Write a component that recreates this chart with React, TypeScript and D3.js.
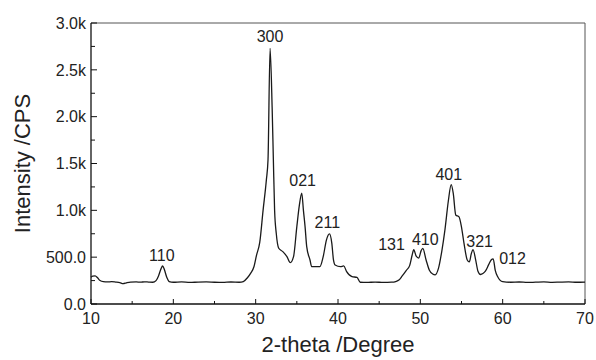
import React from 'react';
import * as d3 from 'd3';

// XRD pattern
const twoTheta = [
    10.0, 10.2, 10.5, 10.8, 11.1, 11.5, 12.0, 12.5, 13.0, 13.5, 13.9, 14.3, 14.8, 15.5, 16.0, 16.5, 17.0, 17.5,
    17.9, 18.2, 18.5, 18.7, 18.9, 19.2, 19.5, 20.0, 21.0, 22.0, 23.0, 24.0, 25.0, 26.0, 27.0, 28.0, 28.5, 29.0,
    29.4, 29.8, 30.1, 30.5, 30.9, 31.3, 31.5, 31.75, 32.0, 32.15, 32.3, 32.5, 32.8, 33.3, 33.8, 34.2, 34.6, 35.0,
    35.3, 35.6, 35.8, 36.0, 36.2, 36.6, 36.8, 37.3, 37.8, 38.2, 38.6, 38.96, 39.25, 39.45, 39.65, 40.3, 40.7,
    41.05, 41.7, 42.3, 42.7, 43.5, 44.5, 45.5, 46.5, 47.0, 47.4, 47.8, 48.3, 48.7, 49.0, 49.2, 49.5, 49.8, 50.1,
    50.3, 50.7, 51.1, 51.5, 51.8, 52.2, 52.6, 53.0, 53.4, 53.75, 54.0, 54.3, 54.7, 55.0, 55.3, 55.7, 55.95,
    56.2, 56.4, 56.7, 57.0, 57.3, 57.6, 57.9, 58.3, 58.6, 58.85, 59.1, 59.4, 59.7, 60.0, 61.0, 62.0, 63.0,
    64.0, 65.0, 66.0, 67.0, 68.0, 69.0, 70.0,
];
const intensity = [
    285, 298, 300, 280, 250, 238, 236, 238, 234, 228, 217, 226, 234, 236, 233, 237, 234, 232,
    250, 300, 375, 406, 370, 285, 240, 232, 236, 230, 234, 236, 232, 230, 235, 232, 240, 280,
    330, 400, 520, 660, 1000, 1325, 1540, 2730, 2100, 1540, 1000, 755, 595, 559, 505, 441, 505, 826,
    1050, 1183, 1000, 826, 612, 470, 399, 400, 399, 505, 684, 748, 648, 470, 416, 399, 406,
    345, 292, 285, 232, 230, 234, 230, 233, 240, 255, 300, 360, 410, 520, 580, 510, 490, 570,
    594, 470, 360, 320, 312, 380, 560, 800, 1100, 1275, 1180, 950, 930, 820, 650, 470, 450,
    540, 580, 480, 350, 315, 325, 350, 420, 470, 482, 360, 290, 252, 238, 232, 235, 230,
    233, 236, 231, 234, 236, 232, 234,
];

// peak indices and where their labels sit
const peakLabels = ['110', '300', '021', '211', '131', '410', '401', '321', '012'];
const labelTheta = [18.6, 31.75, 35.7, 38.7, 46.5, 50.6, 53.45, 57.2, 61.2];
const labelCps = [430, 2760, 1230, 775, 540, 594, 1290, 577, 399];

const xTicks = [10, 20, 30, 40, 50, 60, 70];
const yTicks = [0, 500, 1000, 1500, 2000, 2500, 3000];
const yTickLabels = ['0.0', '500.0', '1.0k', '1.5k', '2.0k', '2.5k', '3.0k'];

const W = 596;
const H = 360;
const m = { left: 91, right: 11, top: 23, bottom: 56 };
const font = '"Liberation Sans", Arial, sans-serif';

export default function App() {
    const x = d3.scaleLinear().domain([10, 70]).range([m.left, W - m.right]);
    const y = d3.scaleLinear().domain([0, 3000]).range([H - m.bottom, m.top]);

    const pts: [number, number][] = twoTheta.map((t, i) => [t, intensity[i]]);
    const line = d3
        .line<[number, number]>()
        .x((d) => x(d[0]))
        .y((d) => y(d[1]))
        .curve(d3.curveMonotoneX);

    const minorX = d3.range(15, 70, 10);
    const minorY = d3.range(250, 3000, 500);
    const y0 = y(0);

    return (
        <svg
            width={W}
            height={H}
            style={{ position: 'absolute', left: 0, top: 0, background: '#fff' }}
            fontFamily={font}
        >
            {/* frame */}
            <line x1={x(10)} x2={x(70)} y1={y(3000)} y2={y(3000)} stroke="#555" strokeWidth={1} />
            <line x1={x(70)} x2={x(70)} y1={y(3000)} y2={y0} stroke="#555" strokeWidth={1} />
            <line x1={x(10)} x2={x(10)} y1={y(3000)} y2={y0} stroke="#111" strokeWidth={1.3} />
            <line x1={x(10)} x2={x(70)} y1={y0} y2={y0} stroke="#111" strokeWidth={1.3} />

            {/* x ticks */}
            {xTicks.map((t) => (
                <g key={'xt' + t}>
                    <line x1={x(t)} x2={x(t)} y1={y0} y2={y0 - 5} stroke="#111" />
                    <text x={x(t)} y={y0 + 20} fontSize={16} textAnchor="middle" fill="#222">
                        {t}
                    </text>
                </g>
            ))}
            {minorX.map((t) => (
                <line key={'xm' + t} x1={x(t)} x2={x(t)} y1={y0} y2={y0 - 3} stroke="#111" />
            ))}

            {/* y ticks */}
            {yTicks.map((t, i) => (
                <g key={'yt' + t}>
                    <line x1={x(10)} x2={x(10) + 6} y1={y(t)} y2={y(t)} stroke="#111" />
                    <text x={x(10) - 5} y={y(t)} dy="0.36em" fontSize={16} textAnchor="end" fill="#222">
                        {yTickLabels[i]}
                    </text>
                </g>
            ))}
            {minorY.map((t) => (
                <line key={'ym' + t} x1={x(10)} x2={x(10) + 4} y1={y(t)} y2={y(t)} stroke="#111" />
            ))}

            {/* pattern */}
            <path d={line(pts) ?? ''} fill="none" stroke="#1a1a1a" strokeWidth={1.3} strokeLinejoin="round" />

            {/* hkl labels */}
            {peakLabels.map((s, i) => (
                <text
                    key={s}
                    x={x(labelTheta[i])}
                    y={y(labelCps[i]) - 3}
                    fontSize={16}
                    textAnchor="middle"
                    fill="#222"
                >
                    {s}
                </text>
            ))}

            {/* axis titles */}
            <text x={(x(10) + x(70)) / 2} y={352} fontSize={22} textAnchor="middle" fill="#222">
                2-theta /Degree
            </text>
            <text
                transform={`translate(30,${(y(0) + y(3000)) / 2}) rotate(-90)`}
                fontSize={22}
                textAnchor="middle"
                fill="#222"
            >
                Intensity /CPS
            </text>
        </svg>
    );
}
